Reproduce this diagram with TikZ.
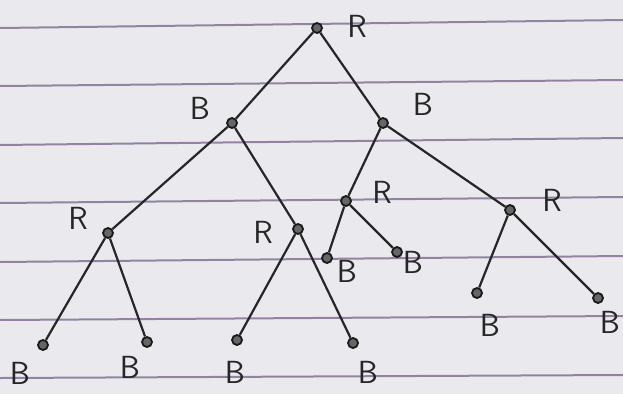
\documentclass[tikz,border=0pt]{standalone}
\definecolor{paperbg}{RGB}{234,234,238}
\definecolor{ruling}{RGB}{146,132,160}
\begin{document}
\begin{tikzpicture}[x=1pt,y=-1pt,
  paperline/.style={draw=ruling, line width=2pt},
  vert/.style={circle, draw=black!90, fill=black!60, line width=1.8pt, inner sep=0pt, minimum size=10pt},
  edge/.style={draw=black!85, line width=2.2pt},
  lbl/.style={font=\sffamily\fontsize{32}{32}\selectfont, text=black!85, inner sep=0pt}]
\useasboundingbox (0,0) rectangle (623,394);
\clip (0,0) rectangle (623,394);
\fill[paperbg] (0,0) rectangle (623,394);
% ruled paper
\foreach \a/\b in {28/20, 86/80, 145/138, 203/197, 262/256, 320/316, 378/375}
  \draw[paperline] (0,\a) -- (623,\b);
% vertices
\node[vert] (r)   at (317,28) {};
\node[vert] (bl)  at (232,123) {};
\node[vert] (br)  at (383,123) {};
\node[vert] (rl)  at (108,233) {};
\node[vert] (rml) at (298,229) {};
\node[vert] (rmr) at (346,201) {};
\node[vert] (rr)  at (510,210) {};
\node[vert] (l1)  at (43,345) {};
\node[vert] (l2)  at (147,342) {};
\node[vert] (l3)  at (237,340) {};
\node[vert] (l4)  at (353,343) {};
\node[vert] (l5)  at (327,258) {};
\node[vert] (l6)  at (397,252) {};
\node[vert] (l7)  at (477,293) {};
\node[vert] (l8)  at (598,298) {};
% edges
\draw[edge] (r) -- (bl);
\draw[edge] (r) -- (br);
\draw[edge] (bl) -- (rl);
\draw[edge] (bl) -- (rml);
\draw[edge] (br) -- (rmr);
\draw[edge] (br) -- (rr);
\draw[edge] (rl) -- (l1);
\draw[edge] (rl) -- (l2);
\draw[edge] (rml) -- (l3);
\draw[edge] (rml) -- (l4);
\draw[edge] (rmr) -- (l5);
\draw[edge] (rmr) -- (l6);
\draw[edge] (rr) -- (l7);
\draw[edge] (rr) -- (l8);
% labels
\node[lbl] (tr)   at (357,26) {R};
\node[lbl] (tbl)  at (200,108) {B};
\node[lbl] (tbr)  at (423,104) {B};
\node[lbl] (trl)  at (78,218) {R};
\node[lbl] (trml) at (263,232) {R};
\node[lbl] (trmr) at (382,192) {R};
\node[lbl] (trr)  at (552,200) {R};
\node[lbl] (t1)   at (20,373) {B};
\node[lbl] (t2)   at (130,367) {B};
\node[lbl] (t3)   at (235,372) {B};
\node[lbl] (t4)   at (368,372) {B};
\node[lbl] (t5)   at (347,271) {B};
\node[lbl] (t6)   at (413,262) {B};
\node[lbl] (t7)   at (490,325) {B};
\node[lbl] (t8)   at (610,322) {B};
\end{tikzpicture}
\end{document}
